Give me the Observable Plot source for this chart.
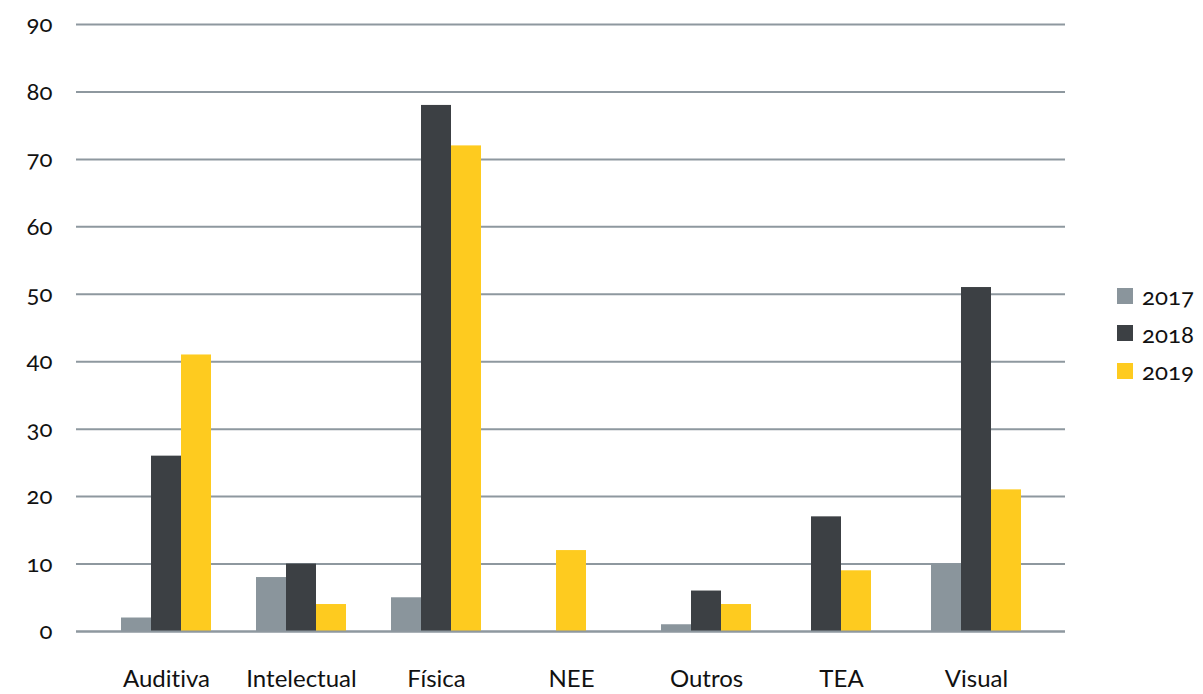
<!DOCTYPE html>
<html>
<head>
<meta charset="utf-8">
<script src="https://cdn.jsdelivr.net/npm/d3@7"></script>
<script src="https://cdn.jsdelivr.net/npm/@observablehq/plot@0.6"></script>
<style>
  html, body { margin: 0; padding: 0; background: #fff; }
  #wrap { position: relative; width: 1203px; height: 694px; font-family: Lato, "Open Sans", sans-serif; font-variant-numeric: oldstyle-nums; font-feature-settings: "onum", "liga" 0; font-variant-ligatures: none; }
  #wrap svg text { font-variant-ligatures: none; font-feature-settings: "onum", "liga" 0; }
  #legend { position: absolute; left: 1117px; top: 277px; font-size: 24px; color: #111; }
  #legend .item { display: flex; align-items: center; height: 37.5px; }
  #legend .sw { width: 16px; height: 16px; margin-right: 9px; }
</style>
</head>
<body>
<div id="wrap"><div id="legend"></div></div>
<script>
const categories = ["Auditiva", "Intelectual", "Física", "NEE", "Outros", "TEA", "Visual"];
const years = ["2017", "2018", "2019"];
// null = no bar for that year
const values2017 = [2, 8, 5, null, 1, null, 10];
const values2018 = [26, 10, 78, null, 6, 17, 51];
const values2019 = [41, 4, 72, 12, 4, 9, 21];
const yTicks = [0, 10, 20, 30, 40, 50, 60, 70, 80, 90];
const colors = ["#8a959c", "#3c4044", "#fecb1f"];

const series = [values2017, values2018, values2019];
const rows = [];
categories.forEach((c, j) => {
  const present = years.map((yr, i) => ({category: c, year: yr, value: series[i][j]})).filter(d => d.value != null);
  present.forEach((d, k) => { d.offset = k - (present.length - 1) / 2; rows.push(d); });
});

const barW = 30;
const offsets = [-1, -0.5, 0, 0.5, 1];

const chart = Plot.plot({
  width: 1203,
  height: 694,
  marginLeft: 76,
  marginRight: 138,
  marginTop: 24,
  marginBottom: 63,
  style: {fontFamily: "Lato, 'Open Sans', sans-serif", fontSize: "24px", color: "#111"},
  x: {type: "band", domain: categories, paddingInner: 0.336, paddingOuter: 0.3175},
  y: {domain: [0, 90]},
  color: {domain: years, range: colors},
  marks: [
    Plot.ruleY(yTicks, {stroke: "#8e989f", strokeWidth: 2}),
    ...offsets.map(o => Plot.barY(rows.filter(d => d.offset === o), {
      x: "category", y: "value", fill: "year",
      insetLeft: barW + o * barW, insetRight: barW - o * barW
    })),
    Plot.ruleY([0], {stroke: "#8e989f", strokeWidth: 2}),
    Plot.axisY(yTicks, {tickSize: 0, tickPadding: 24, label: null, fontSize: 24, fill: "#111"}),
    Plot.axisX({tickSize: 0, tickPadding: 38, label: null, fontSize: 24, fill: "#111"})
  ]
});
document.getElementById("wrap").prepend(chart);

const legend = document.getElementById("legend");
years.forEach((yr, i) => {
  const item = document.createElement("div");
  item.className = "item";
  item.innerHTML = `<span class="sw" style="background:${colors[i]}"></span><span>${yr}</span>`;
  legend.appendChild(item);
});
</script>
</body>
</html>
